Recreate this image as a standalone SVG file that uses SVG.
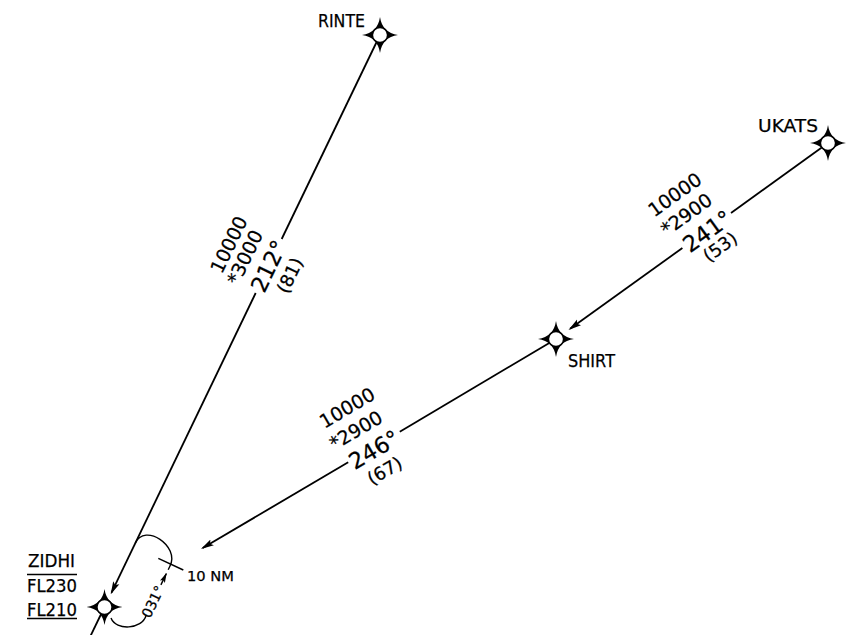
<svg xmlns="http://www.w3.org/2000/svg" width="849" height="635" viewBox="0 0 849 635">
<defs>
<style>
.leg{stroke:#000;stroke-width:1.8;fill:none}
.hold{stroke:#000;stroke-width:1.4;fill:none}
.lbl{font-family:"DejaVu Sans","Liberation Sans",sans-serif;fill:#000;stroke:#000;stroke-width:0.25}
.wp{font-size:18px}
.alt{font-size:19px;text-anchor:middle}
.brg{font-size:22.5px;text-anchor:middle}
.dst{font-size:18px;text-anchor:middle}
</style>
<marker id="arr" markerUnits="userSpaceOnUse" viewBox="0 -4 13 8" refX="11" refY="0" markerWidth="13" markerHeight="8" orient="auto"><path d="M0,-3.4 L13,0 L0,3.4 L2.5,0 Z" fill="#000"/></marker>
<marker id="arrS" markerUnits="userSpaceOnUse" viewBox="0 -3 10 6" refX="9" refY="0" markerWidth="10" markerHeight="6" orient="auto"><path d="M0,-2.7 L10,0 L0,2.7 L2,0 Z" fill="#000"/></marker>
<g id="wpt-sym"><path d="M0,-18 Q2.3,-2.3 18,0 Q2.3,2.3 0,18 Q-2.3,2.3 -18,0 Q-2.3,-2.3 0,-18 Z" fill="#000"/><circle r="7.6" fill="#fff" stroke="#000" stroke-width="1.5"/></g>
</defs>
<rect width="849" height="635" fill="#fff"/>
<g id="connectors">
<path class="leg" d="M380,35 L281.7,239"/>
<path class="leg" d="M255.7,293 L111.5,592.6" marker-end="url(#arr)"/>
<path class="leg" d="M104.5,607 L90.5,636"/>
<path class="leg" d="M828,143 L731,212.9"/>
<path class="leg" d="M682.4,248 L570.1,328.8" marker-end="url(#arr)"/>
<path class="leg" d="M556,339 L399.8,431.7"/>
<path class="leg" d="M348.2,462.3 L202.7,548" marker-end="url(#arr)"/>
<g id="hold">
<path class="hold" d="M135.3,543 C144.8,522.5 180,546 170,566 L168.2,569.7"/>
<path class="hold" d="M160.9,584.9 L166.3,573.6" marker-end="url(#arrS)"/>
<path class="hold" d="M146.1,615.5 C142,629.5 116,631 111,618"/>
<path class="hold" d="M158.3,558.3 L183.3,570" stroke-width="1.2"/>
<text class="lbl" font-size="14" text-anchor="middle" transform="translate(152.9,601.6) rotate(-64.28)" y="5">031°</text>
<text class="lbl" font-size="14.5" x="187" y="581" stroke-width="0" textLength="47" lengthAdjust="spacingAndGlyphs">10 NM</text>
</g>
<g id="label-rinte-zidhi" class="lbl" transform="translate(268.7,266) rotate(-64.28)">
<text class="alt" x="2" y="-38.5">10000</text>
<text class="alt" x="-2.5" y="-18.5">*3000</text>
<text class="brg" x="0" y="8">212°</text>
<text class="dst" x="0.7" y="29.5">(81)</text>
</g>
<g id="label-ukats-shirt" class="lbl" transform="translate(706.7,230.4) rotate(-35.78)">
<text class="alt" x="-4.9" y="-41">10000</text>
<text class="alt" x="-7.1" y="-18">*2900</text>
<text class="brg" x="0" y="9">241°</text>
<text class="dst" x="1.3" y="27.5">(53)</text>
</g>
<g id="label-shirt-zidhi" class="lbl" transform="translate(374,446.7) rotate(-30.61)">
<text class="alt" x="-3.3" y="-40.5">10000</text>
<text class="alt" x="-7.2" y="-16.7">*2900</text>
<text class="brg" x="-1.5" y="10.5">246°</text>
<text class="dst" x="-3" y="32.5">(67)</text>
</g>
</g>
<g id="RINTE">
<use href="#wpt-sym" transform="translate(380,35)"/>
<text class="lbl wp" x="365" y="27" text-anchor="end" textLength="47" lengthAdjust="spacingAndGlyphs">RINTE</text>
</g>
<g id="UKATS">
<use href="#wpt-sym" transform="translate(828,143)"/>
<text class="lbl wp" x="818" y="132" text-anchor="end" textLength="60" lengthAdjust="spacingAndGlyphs">UKATS</text>
</g>
<g id="SHIRT">
<use href="#wpt-sym" transform="translate(556,339)"/>
<text class="lbl wp" x="568" y="367" textLength="47" lengthAdjust="spacingAndGlyphs">SHIRT</text>
</g>
<g id="ZIDHI">
<use href="#wpt-sym" transform="translate(104.5,607)"/>
<text class="lbl wp" x="28" y="567" textLength="47" lengthAdjust="spacingAndGlyphs">ZIDHI</text>
<path d="M27,574.5 H77" stroke="#000" stroke-width="1.4"/>
<text class="lbl wp" x="27" y="592" textLength="50" lengthAdjust="spacingAndGlyphs">FL230</text>
<text class="lbl wp" x="27" y="615.5" textLength="50" lengthAdjust="spacingAndGlyphs">FL210</text>
<path d="M27,618.5 H77" stroke="#000" stroke-width="1.4"/>
</g>
</svg>
